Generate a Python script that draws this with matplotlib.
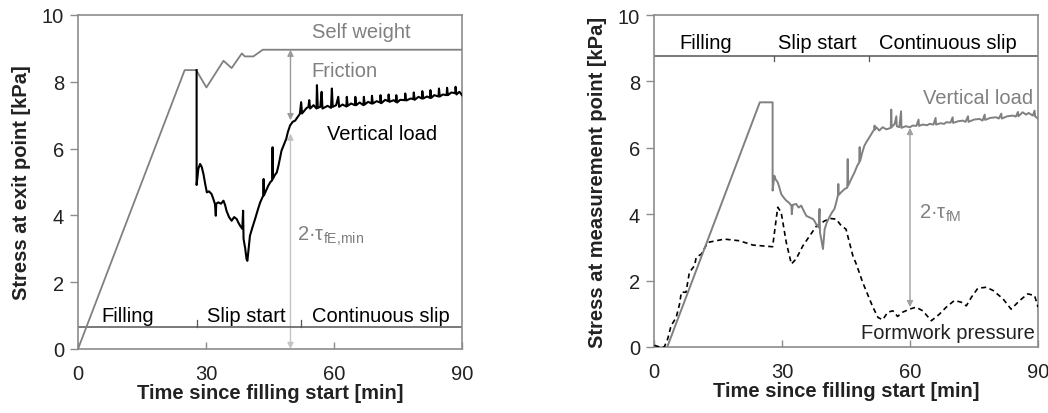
import numpy as np
import matplotlib
matplotlib.use('Agg')
import matplotlib.pyplot as plt

plt.rcParams['font.family'] = ['Liberation Sans', 'DejaVu Sans']
plt.rcParams['mathtext.fontset'] = 'custom'
plt.rcParams['mathtext.rm'] = 'Liberation Sans'

# ---- data ----
# left: self weight (gray)
t_self = [0, 25.0, 27.7, 30.1, 34.1, 36.0, 38.4, 39.1, 41.1, 43.3, 90]
y_self = [0, 8.35, 8.35, 7.83, 8.63, 8.41, 8.85, 8.76, 8.76, 8.96, 8.96]

# left: vertical load at exit point (black)
t_exit = [27.8, 27.8, 28.2, 28.6, 29.0, 29.4, 29.8, 30.2, 30.7, 31.3, 31.7, 32.1, 32.3, 32.4, 32.9,
          33.5, 34.1, 34.5, 34.8, 35.4, 36.0, 36.6, 37.2, 37.6, 38.0, 38.5, 38.7, 38.8, 39.2, 39.5,
          39.7, 40.0, 40.3, 40.9, 41.5, 42.1, 42.7, 43.1, 43.4, 43.5, 43.6, 44.1, 44.6, 45.1, 45.5,
          45.6, 45.7, 46.1, 46.6, 47.0, 47.3, 47.7, 48.2, 48.8, 49.2, 49.7, 50.3, 50.9, 51.5, 52.0,
          52.3, 52.5, 53.6, 54.0, 54.2, 54.4, 55.2, 55.9, 56.0, 56.2, 56.8, 57.1, 57.3, 58.5, 59.3,
          59.5, 59.7, 60.5, 61.0, 61.2, 62.0, 62.9, 63.0, 63.2, 64.0, 64.9, 65.0, 65.2, 66.0, 66.9,
          67.0, 67.2, 68.0, 68.8, 68.9, 69.1, 70.0, 70.8, 70.9, 71.1, 72.0, 72.7, 72.8, 73.0, 74.0,
          74.5, 74.6, 74.8, 75.5, 76.6, 76.7, 76.9, 78.0, 78.6, 78.7, 78.9, 79.8, 80.6, 80.7, 80.9,
          81.8, 82.5, 82.6, 82.8, 83.5, 84.5, 84.6, 84.8, 85.5, 86.4, 86.5, 86.7, 87.5, 88.4, 88.5,
          88.7, 89.4, 90.0]
y_exit = [8.35, 4.91, 5.39, 5.54, 5.45, 5.24, 4.95, 4.69, 4.72, 4.64, 4.50, 4.34, 3.99, 4.35, 4.39,
          4.35, 4.44, 4.30, 4.14, 3.95, 3.84, 3.95, 3.89, 3.78, 3.69, 3.60, 4.14, 3.30, 3.00, 2.69,
          2.64, 3.00, 3.39, 3.65, 3.89, 4.15, 4.39, 4.50, 4.59, 5.09, 4.60, 4.75, 4.89, 5.00, 5.05,
          6.04, 5.10, 5.20, 5.29, 5.50, 5.69, 5.94, 6.10, 6.29, 6.50, 6.69, 6.80, 6.84, 6.95, 7.04,
          7.39, 7.05, 7.22, 7.24, 7.45, 7.20, 7.30, 7.20, 7.90, 7.22, 7.25, 7.70, 7.20, 7.28, 7.22,
          7.80, 7.25, 7.30, 7.55, 7.25, 7.32, 7.26, 7.55, 7.28, 7.35, 7.30, 7.55, 7.30, 7.38, 7.30,
          7.55, 7.32, 7.40, 7.35, 7.58, 7.35, 7.42, 7.38, 7.60, 7.36, 7.46, 7.42, 7.62, 7.40, 7.45,
          7.40, 7.60, 7.38, 7.46, 7.45, 7.65, 7.44, 7.50, 7.48, 7.68, 7.46, 7.55, 7.50, 7.72, 7.50,
          7.56, 7.52, 7.75, 7.52, 7.60, 7.56, 7.80, 7.56, 7.62, 7.60, 7.82, 7.60, 7.68, 7.66, 7.85,
          7.62, 7.70, 7.60]

# right: vertical load at measurement point (gray)
t_meas = [3.1, 24.8, 27.8, 27.8, 28.2, 28.5, 29.0, 29.4, 29.8, 30.4, 31.0, 31.6, 32.2, 32.3, 32.5,
          33.3, 33.9, 34.5, 35.1, 35.7, 36.5, 37.2, 37.6, 38.0, 38.6, 38.8, 38.9, 39.2, 39.6, 40.0,
          40.5, 41.1, 41.7, 42.3, 42.7, 43.1, 43.2, 43.3, 44.0, 44.7, 45.3, 45.4, 45.5, 46.2, 47.0,
          47.6, 48.1, 48.2, 48.3, 48.8, 49.3, 49.9, 50.5, 51.1, 51.6, 51.7, 51.8, 52.1, 52.8, 53.6,
          54.4, 54.8, 55.5, 55.6, 55.7, 56.4, 56.8, 56.9, 57.5, 57.9, 58.0, 59.0, 60.0, 60.6, 61.5,
          62.0, 62.1, 63.0, 64.0, 64.6, 65.5, 66.0, 66.1, 67.2, 68.0, 68.5, 69.5, 70.0, 70.1, 71.3,
          72.4, 73.0, 73.6, 73.7, 75.0, 76.3, 77.0, 77.5, 77.6, 78.8, 80.2, 80.8, 81.4, 81.5, 82.8,
          84.1, 84.8, 85.3, 85.4, 86.4, 87.2, 87.8, 88.8, 89.2, 89.3, 89.6, 90.0]
y_meas = [0.0, 7.37, 7.37, 4.71, 5.16, 5.05, 4.96, 4.80, 4.61, 4.50, 4.41, 4.35, 4.26, 4.00, 4.28,
          4.31, 4.20, 4.26, 4.10, 3.95, 3.90, 3.86, 3.80, 3.70, 3.60, 4.16, 3.45, 3.25, 2.95, 3.55,
          3.75, 3.91, 4.05, 4.16, 4.35, 4.56, 4.91, 4.58, 4.68, 4.76, 4.80, 5.66, 4.86, 5.05, 5.26,
          5.45, 5.56, 6.02, 5.60, 5.85, 6.06, 6.20, 6.32, 6.45, 6.55, 6.67, 6.55, 6.62, 6.52, 6.62,
          6.56, 6.57, 6.60, 7.15, 6.62, 6.72, 6.95, 6.65, 6.62, 7.10, 6.60, 6.65, 6.62, 6.67, 6.66,
          6.85, 6.66, 6.70, 6.68, 6.72, 6.70, 6.90, 6.70, 6.74, 6.72, 6.77, 6.76, 6.92, 6.75, 6.80,
          6.82, 6.78, 6.95, 6.78, 6.85, 6.87, 6.82, 7.00, 6.84, 6.90, 6.92, 6.88, 7.03, 6.88, 6.95,
          6.97, 6.94, 7.08, 6.95, 7.07, 7.00, 7.05, 6.97, 7.12, 6.95, 6.92, 6.88]

# right: formwork pressure (black dashed)
t_fw = [0.1, 1.3, 2.4, 3.2, 4.0, 5.2, 6.0, 6.4, 7.5, 8.3, 9.5, 9.9, 11.1, 12.6, 16.5, 20.0, 23.2,
        27.8, 29.0, 29.8, 31.0, 32.2, 33.3, 34.9, 36.5, 38.0, 40.0, 41.5, 42.7, 43.9, 45.0, 46.6,
        47.4, 48.9, 51.3, 52.5, 53.6, 54.8, 56.0, 57.1, 58.3, 59.9, 61.4, 63.0, 65.0, 66.9, 68.5,
        70.4, 72.0, 73.2, 74.4, 75.9, 77.9, 79.5, 81.8, 83.7, 85.7, 87.6, 89.2, 90.0]
y_fw = [0.05, 0.0, 0.0, 0.24, 0.64, 0.89, 1.30, 1.65, 1.65, 2.25, 2.45, 2.70, 2.80, 3.15, 3.25,
        3.20, 3.07, 3.02, 4.21, 4.06, 3.15, 2.50, 2.65, 3.05, 3.35, 3.63, 3.80, 3.87, 3.85, 3.65,
        3.55, 2.75, 2.50, 1.95, 1.20, 0.89, 0.82, 1.05, 1.09, 0.92, 1.05, 1.14, 1.20, 1.09, 0.79,
        0.99, 1.20, 1.40, 1.35, 1.24, 1.50, 1.77, 1.80, 1.70, 1.45, 1.14, 1.40, 1.60, 1.55, 1.20]

phases = ['Filling', 'Slip start', 'Continuous slip']
x_ticks = [0, 30, 60, 90]
y_ticks = [0, 2, 4, 6, 8, 10]

GRAY = '#808080'
SPINE = '#8c8c8c'
FS = 14.5

fig = plt.figure(figsize=(10.48, 4.14), dpi=100)
ax1 = fig.add_axes([78/1048, 1-350/414, 384/1048, 334/414])
ax2 = fig.add_axes([654/1048, 1-348/414, 384/1048, 332/414])

for ax in (ax1, ax2):
    ax.set_xlim(0, 90)
    ax.set_ylim(0, 10)
    ax.set_xticks(x_ticks)
    ax.set_yticks(y_ticks)
    for s in ax.spines.values():
        s.set_color(SPINE)
        s.set_linewidth(1.2)
    ax.tick_params(axis='x', direction='in', length=5, width=1, color=SPINE, pad=11, labelsize=FS, labelcolor='#222222')
    ax.tick_params(axis='y', direction='out', length=6, width=1, color=SPINE, pad=4, labelsize=FS, labelcolor='#222222')
    ax.set_xlabel('Time since filling start [min]', fontsize=FS, fontweight='bold', color='#222222', labelpad=0)

ax1.set_ylabel('Stress at exit point [kPa]', fontsize=FS, fontweight='bold', color='#222222', labelpad=8)
ax2.set_ylabel('Stress at measurement point [kPa]', fontsize=FS, fontweight='bold', color='#222222', labelpad=8)

# ---- left panel ----
ax1.plot(t_self, y_self, color=GRAY, lw=1.3, zorder=3)
ax1.plot(t_exit, y_exit, color='black', lw=1.5, zorder=4)

arr_dark = dict(arrowstyle='<|-|>', color='#9a9a9a', lw=1.0, mutation_scale=9, shrinkA=0, shrinkB=0)
arr_light = dict(arrowstyle='<|-|>', color='#c4c4c4', lw=1.0, mutation_scale=9, shrinkA=0, shrinkB=0)
ax1.annotate('', xy=(49.8, 8.96), xytext=(49.8, 6.85), arrowprops=arr_dark, zorder=2)
ax1.annotate('', xy=(49.8, 6.45), xytext=(49.8, 0.0), arrowprops=arr_light, zorder=2)

ax1.text(54.8, 9.5, 'Self weight', color=GRAY, fontsize=FS, va='center')
ax1.text(54.8, 8.35, 'Friction', color=GRAY, fontsize=FS, va='center')
ax1.text(58.3, 6.45, 'Vertical load', color='black', fontsize=FS, va='center')
ax1.text(51.4, 3.4, r'2·τ$_{\mathrm{fE{,}min}}$', color=GRAY, fontsize=FS, va='center')

ax1.plot([0, 90], [0.65, 0.65], color='#555555', lw=1.1, zorder=2)
ax1.plot([27.8, 27.8], [0.65, 0.87], color='#555555', lw=0.9)
ax1.plot([52.3, 52.3], [0.65, 0.87], color='#555555', lw=0.9)
ax1.text(5.5, 1.0, phases[0], fontsize=FS, va='center')
ax1.text(30.2, 1.0, phases[1], fontsize=FS, va='center')
ax1.text(54.8, 1.0, phases[2], fontsize=FS, va='center')

# ---- right panel ----
ax2.plot(t_meas, y_meas, color=GRAY, lw=1.4, zorder=4)
ax2.plot(t_fw, y_fw, color='black', lw=1.2, ls=(0, (3, 2.2)), zorder=3)

arr_mid = dict(arrowstyle='<|-|>', color='#a0a0a0', lw=1.0, mutation_scale=9, shrinkA=0, shrinkB=0)
ax2.annotate('', xy=(60.0, 6.6), xytext=(60.0, 1.2), arrowprops=arr_mid, zorder=2)

ax2.text(88.8, 7.52, 'Vertical load', color=GRAY, fontsize=FS, va='center', ha='right')
ax2.text(62.0, 4.06, r'2·τ$_{\mathrm{fM}}$', color=GRAY, fontsize=FS, va='center')
ax2.text(89.2, 0.45, 'Formwork pressure', color='#222222', fontsize=FS, va='center', ha='right')

ax2.plot([0, 90], [8.77, 8.77], color='#555555', lw=1.1, zorder=2)
ax2.plot([28.1, 28.1], [8.77, 8.6], color='#555555', lw=0.9)
ax2.plot([50.4, 50.4], [8.77, 8.6], color='#555555', lw=0.9)
ax2.text(5.9, 9.18, phases[0], fontsize=FS, va='center')
ax2.text(29.1, 9.18, phases[1], fontsize=FS, va='center')
ax2.text(52.7, 9.18, phases[2], fontsize=FS, va='center')

fig.savefig('out.png', dpi=100)
